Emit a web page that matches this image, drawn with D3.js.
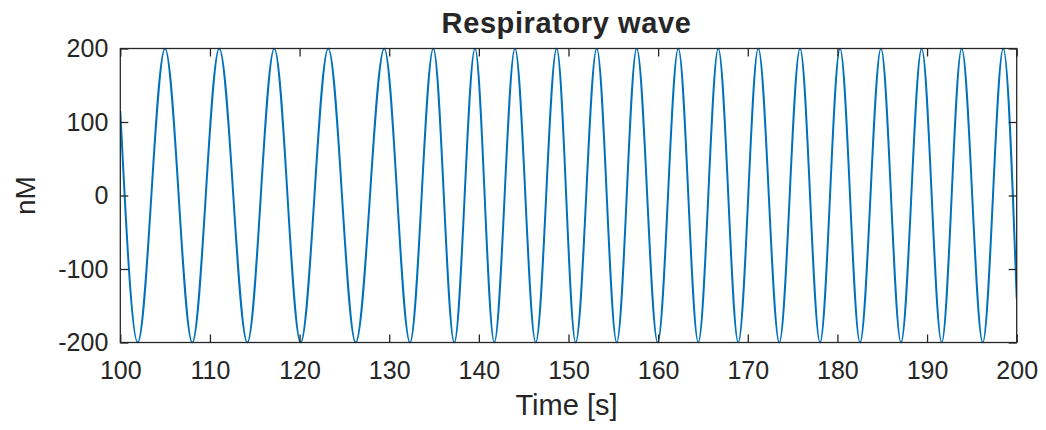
<!DOCTYPE html>
<html>
<head>
<meta charset="utf-8">
<script src="https://cdn.jsdelivr.net/npm/d3@7"></script>
<style>
  html, body { margin: 0; padding: 0; background: #ffffff; }
  svg { display: block; }
  text { font-family: "Liberation Sans", Arial, Helvetica, sans-serif; fill: #262626; }
</style>
</head>
<body>
<svg id="chart" width="1046" height="430"></svg>
<script>
// Respiratory wave: turning points (troughs and crests) of the trace, in seconds and nM
const waveTimes = [
  100.00, 101.94, 104.99, 108.03, 111.04, 114.17, 117.18, 120.12, 123.20, 126.26,
  129.45, 132.32, 134.92, 137.26, 139.57, 141.72, 144.03, 146.34, 148.68, 150.80,
  153.15, 155.38, 157.61, 159.95, 162.25, 164.48, 166.71, 168.94, 171.17, 173.52,
  175.83, 178.06, 180.29, 182.52, 184.86, 187.09, 189.40, 191.63, 193.86, 196.21,
  198.50, 200.00
];
const waveValues = [
  115, -200, 200, -200, 200, -200, 200, -200, 200, -200,
  200, -200, 200, -200, 200, -200, 200, -200, 200, -200,
  200, -200, 200, -200, 200, -200, 200, -200, 200, -200,
  200, -200, 200, -200, 200, -200, 200, -200, 200, -200,
  200, -140
];

const xTicks = [100, 110, 120, 130, 140, 150, 160, 170, 180, 190, 200];
const yTicks = [-200, -100, 0, 100, 200];

const titleText = "Respiratory wave";
const xLabelText = "Time [s]";
const yLabelText = "nM";

const svg = d3.select("#chart");
const inkColor = "#262626";
const lineColor = "#0072BD";

const plot = { left: 120.3, right: 1016.7, top: 48.5, bottom: 342.5 };
const tickLen = 8;

const x = d3.scaleLinear().domain([100, 200]).range([plot.left, plot.right]);
const y = d3.scaleLinear().domain([-200, 200]).range([plot.bottom, plot.top]);

// plain hyphen-minus for negative tick labels
const tickFmt = d => String(d);

// clip the trace to the axes box
svg.append("defs").append("clipPath").attr("id", "plotClip")
  .append("rect")
  .attr("x", plot.left).attr("y", plot.top - 1)
  .attr("width", plot.right - plot.left)
  .attr("height", plot.bottom - plot.top + 2);

const points = waveTimes.map((t, i) => [t, waveValues[i]]);

const line = d3.line()
  .x(d => x(d[0]))
  .y(d => y(d[1]))
  .curve(d3.curveMonotoneX);

svg.append("path")
  .datum(points)
  .attr("clip-path", "url(#plotClip)")
  .attr("fill", "none")
  .attr("stroke", lineColor)
  .attr("stroke-width", 2)
  .attr("stroke-linejoin", "round")
  .attr("d", line);

// axes with inward ticks on all four sides
function styleAxis(g) {
  g.select(".domain").remove();
  g.selectAll(".tick line").attr("stroke", inkColor).attr("stroke-width", 1.3);
  g.selectAll(".tick text").attr("fill", inkColor).style("font-size", "25px");
}

svg.append("g")
  .attr("transform", `translate(0,${plot.bottom})`)
  .call(d3.axisBottom(x).tickValues(xTicks).tickFormat(tickFmt)
    .tickSizeInner(-tickLen).tickSizeOuter(0).tickPadding(19))
  .call(styleAxis);

svg.append("g")
  .attr("transform", `translate(0,${plot.top})`)
  .call(d3.axisTop(x).tickValues(xTicks).tickFormat("")
    .tickSizeInner(-tickLen).tickSizeOuter(0))
  .call(styleAxis);

svg.append("g")
  .attr("transform", `translate(${plot.left},0)`)
  .call(d3.axisLeft(y).tickValues(yTicks).tickFormat(tickFmt)
    .tickSizeInner(-tickLen).tickSizeOuter(0).tickPadding(12))
  .call(styleAxis);

svg.append("g")
  .attr("transform", `translate(${plot.right},0)`)
  .call(d3.axisRight(y).tickValues(yTicks).tickFormat("")
    .tickSizeInner(-tickLen).tickSizeOuter(0))
  .call(styleAxis);

// axes box
svg.append("rect")
  .attr("x", plot.left).attr("y", plot.top)
  .attr("width", plot.right - plot.left)
  .attr("height", plot.bottom - plot.top)
  .attr("fill", "none")
  .attr("stroke", inkColor)
  .attr("stroke-width", 1.3);

// title and axis labels
const midX = (plot.left + plot.right) / 2;

svg.append("text")
  .attr("x", midX - 2).attr("y", 33)
  .attr("text-anchor", "middle")
  .style("font-size", "29px")
  .style("font-weight", "bold")
  .style("letter-spacing", "0.6px")
  .text(titleText);

svg.append("text")
  .attr("x", midX - 2).attr("y", 415)
  .attr("text-anchor", "middle")
  .style("font-size", "29px")
  .text(xLabelText);

svg.append("text")
  .attr("transform", `translate(35,${(plot.top + plot.bottom) / 2}) rotate(-90)`)
  .attr("text-anchor", "middle")
  .style("font-size", "28px")
  .text(yLabelText);
</script>
</body>
</html>
